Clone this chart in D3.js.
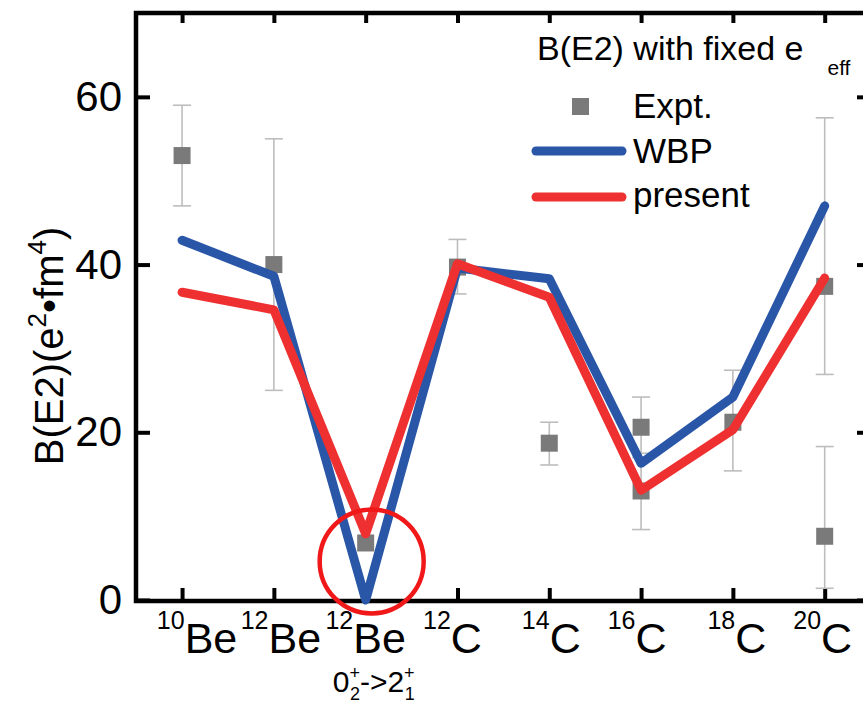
<!DOCTYPE html>
<html>
<head>
<meta charset="utf-8">
<script src="https://cdn.jsdelivr.net/npm/d3@7"></script>
<style>
  body { margin: 0; background: #fff; }
  text { font-family: "Liberation Sans", Arial, sans-serif; }
</style>
</head>
<body>
<svg id="chart" width="863" height="707"></svg>
<script>
// nuclei along the x axis
var nuclei = [
  {mass: "10", el: "Be"}, {mass: "12", el: "Be"}, {mass: "12", el: "Be"},
  {mass: "12", el: "C"}, {mass: "14", el: "C"}, {mass: "16", el: "C"},
  {mass: "18", el: "C"}, {mass: "20", el: "C"}
];

// experimental points: index, value, low, high
var expt = [
  [0, 53.0, 47.0, 59.0],
  [1, 40.0, 25.0, 55.0],
  [2, 6.8, null, null],
  [3, 39.7, 36.5, 43.0],
  [4, 18.7, 16.1, 21.2],
  [5, 20.6, 17.0, 24.2],
  [5, 13.0, 8.4, 17.5],
  [6, 21.2, 15.4, 27.4],
  [7, 37.4, 26.9, 57.5],
  [7, 7.6, 1.4, 18.3]
];

var wbp = [42.9, 38.6, 0.0, 39.6, 38.3, 16.3, 24.2, 47.0];
var present = [36.7, 34.6, 7.9, 40.1, 36.1, 13.1, 20.3, 38.4];

var yTicks = [0, 20, 40, 60];

var svg = d3.select("#chart");

var x = d3.scaleLinear().domain([-0.48, 7.45]).range([138, 866]);
var y = d3.scaleLinear().domain([0, 70]).range([600, 13]);

var idx = d3.range(nuclei.length);

// axes with inward ticks
var axL = svg.append("g").attr("transform", "translate(138,0)")
  .call(d3.axisLeft(y).tickValues(yTicks).tickSizeInner(-12).tickSizeOuter(0).tickPadding(16).tickFormat(d3.format("d")));
var axR = svg.append("g").attr("transform", "translate(865,0)")
  .call(d3.axisRight(y).tickValues(yTicks).tickSizeInner(-8).tickSizeOuter(0).tickFormat(""));
var axB = svg.append("g").attr("transform", "translate(0,600)")
  .call(d3.axisBottom(x).tickValues(idx).tickSizeInner(-12).tickSizeOuter(0).tickFormat(""));
var axT = svg.append("g").attr("transform", "translate(0,13)")
  .call(d3.axisTop(x).tickValues(idx).tickSizeInner(-10).tickSizeOuter(0).tickFormat(""));

[axL, axR, axB, axT].forEach(function(a) {
  a.select(".domain").remove();
  a.selectAll(".tick line").attr("stroke", "#000").attr("stroke-width", 4);
});
axL.selectAll(".tick text").attr("font-size", 42).attr("fill", "#000")
  .style("font-family", "Liberation Sans, Arial, sans-serif");

// frame
svg.append("rect")
  .attr("x", 136).attr("y", 13)
  .attr("width", 732).attr("height", 588)
  .attr("fill", "none").attr("stroke", "#000").attr("stroke-width", 4.5);

// error bars
var eb = expt.filter(function(d) { return d[2] != null; });
var ebG = svg.append("g").attr("stroke", "#bdbdbd").attr("stroke-width", 1.6);
ebG.selectAll("line.v").data(eb).enter().append("line")
  .attr("x1", function(d) { return x(d[0]); })
  .attr("x2", function(d) { return x(d[0]); })
  .attr("y1", function(d) { return y(d[2]); })
  .attr("y2", function(d) { return y(d[3]); });
ebG.selectAll("line.lo").data(eb).enter().append("line")
  .attr("x1", function(d) { return x(d[0]) - 9; })
  .attr("x2", function(d) { return x(d[0]) + 9; })
  .attr("y1", function(d) { return y(d[2]); })
  .attr("y2", function(d) { return y(d[2]); });
ebG.selectAll("line.hi").data(eb).enter().append("line")
  .attr("x1", function(d) { return x(d[0]) - 9; })
  .attr("x2", function(d) { return x(d[0]) + 9; })
  .attr("y1", function(d) { return y(d[3]); })
  .attr("y2", function(d) { return y(d[3]); });

// squares
svg.append("g").selectAll("rect").data(expt).enter().append("rect")
  .attr("x", function(d) { return x(d[0]) - 8.5; })
  .attr("y", function(d) { return y(d[1]) - 8.5; })
  .attr("width", 17).attr("height", 17)
  .attr("fill", "#7a7a7a");

// lines
var line = d3.line()
  .x(function(d, i) { return x(i); })
  .y(function(d) { return y(d); });

svg.append("path").datum(wbp)
  .attr("d", line).attr("fill", "none")
  .attr("stroke", "#2a56a8").attr("stroke-width", 9)
  .attr("stroke-linejoin", "round").attr("stroke-linecap", "round");
svg.append("path").datum(present)
  .attr("d", line).attr("fill", "none")
  .attr("stroke", "#ee3030").attr("stroke-width", 9)
  .attr("stroke-linejoin", "round").attr("stroke-linecap", "round");

// red highlight circle
svg.append("circle")
  .attr("cx", x(2) + 6).attr("cy", y(4.6))
  .attr("r", 52)
  .attr("fill", "none").attr("stroke", "#f01818").attr("stroke-width", 4.5);

// x tick labels (small nudges so the labels sit like the original)
var labelShift = [15, 7, 0, -5, 2, -4, 4, -2];
var xl = svg.append("g").selectAll("text").data(nuclei).enter().append("text")
  .attr("x", function(d, i) { return x(i) + labelShift[i]; })
  .attr("y", 653)
  .attr("text-anchor", "middle")
  .attr("font-size", 43);
xl.append("tspan").attr("font-size", 25).attr("dy", -24).text(function(d) { return d.mass; });
xl.append("tspan").attr("dy", 24).text(function(d) { return d.el; });

// transition label under 12Be
var tr = svg.append("text").attr("x", x(2) + 8).attr("y", 692)
  .attr("text-anchor", "middle").attr("font-size", 30);
tr.append("tspan").text("0");
tr.append("tspan").attr("font-size", 18).attr("dy", -13).text("+");
tr.append("tspan").attr("font-size", 18).attr("dx", -10).attr("dy", 21).text("2");
tr.append("tspan").attr("dy", -8).text("->2");
tr.append("tspan").attr("font-size", 18).attr("dy", -13).text("+");
tr.append("tspan").attr("font-size", 18).attr("dx", -10).attr("dy", 21).text("1");

// y axis label
var yl = svg.append("text")
  .attr("transform", "translate(63,346) rotate(-90)")
  .attr("text-anchor", "middle").attr("font-size", 40);
yl.append("tspan").text("B(E2)(e");
yl.append("tspan").attr("font-size", 26).attr("dy", -17).text("2");
yl.append("tspan").attr("dy", 17).text("\u2022fm");
yl.append("tspan").attr("font-size", 26).attr("dy", -17).text("4");
yl.append("tspan").attr("dy", 17).text(")");

// legend
var title = svg.append("text").attr("x", 537).attr("y", 60).attr("font-size", 34);
title.append("tspan").text("B(E2) with fixed e");
title.append("tspan").attr("font-size", 21).attr("dx", 24).attr("dy", 15).text("eff");

var leg = svg.append("g");
leg.append("rect").attr("x", 572).attr("y", 98).attr("width", 17).attr("height", 17).attr("fill", "#7a7a7a");
leg.append("text").attr("x", 633).attr("y", 118).attr("font-size", 35).text("Expt.");
leg.append("line").attr("x1", 536).attr("x2", 622).attr("y1", 151).attr("y2", 151)
  .attr("stroke", "#2a56a8").attr("stroke-width", 9).attr("stroke-linecap", "round");
leg.append("text").attr("x", 633).attr("y", 163).attr("font-size", 35).text("WBP");
leg.append("line").attr("x1", 536).attr("x2", 622).attr("y1", 197).attr("y2", 197)
  .attr("stroke", "#ee3030").attr("stroke-width", 9).attr("stroke-linecap", "round");
leg.append("text").attr("x", 633).attr("y", 207).attr("font-size", 35).text("present");
</script>
</body>
</html>
